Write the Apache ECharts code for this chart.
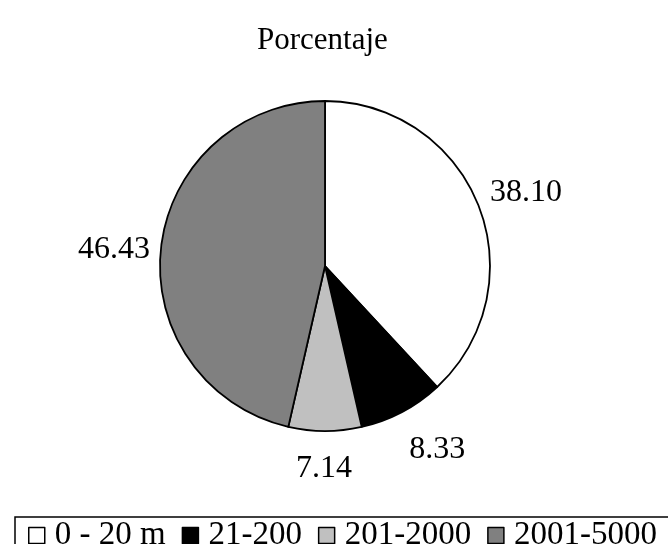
<!DOCTYPE html>
<html lang="es">
<head>
<meta charset="utf-8">
<script src="https://cdn.jsdelivr.net/npm/echarts@6/dist/echarts.min.js"></script>
<style>
  html, body { margin: 0; padding: 0; background: #fff; }
  #chart { width: 668px; height: 544px; }
</style>
</head>
<body>
<div id="chart"></div>
<script>
// datos
var categorias = ['0 - 20 m', '21-200', '201-2000', '2001-5000'];
var porcentajes = [38.10, 8.33, 7.14, 46.43];
var colores = ['#ffffff', '#000000', '#c0c0c0', '#808080'];

var fuente = 'Liberation Serif';
// ajuste fino de las etiquetas (dx, dy) respecto a la posicion exterior
var ajusteEtiquetas = [[-3, -9], [-16, 29], [-34, 14], [4, 3]];

var chart = echarts.init(document.getElementById('chart'));

var datos = [];
for (var i = 0; i < categorias.length; i++) {
    datos.push({ name: categorias[i], value: porcentajes[i], itemStyle: { color: colores[i] } });
}

chart.setOption({
    animation: false,
    title: {
        text: 'Porcentaje',
        left: 257,
        top: 25,
        padding: 0,
        textStyle: { fontFamily: fuente, fontSize: 31, fontWeight: 'normal', color: '#000' }
    },
    legend: {
        orient: 'horizontal',
        left: 15,
        top: 517,
        width: 760,
        itemWidth: 16,
        itemHeight: 16,
        itemGap: 16,
        padding: [2, 40, 20, 13],
        borderColor: '#000',
        borderWidth: 1.5,
        icon: 'rect',
        itemStyle: { borderColor: '#000', borderWidth: 1.5 },
        textStyle: { fontFamily: fuente, fontSize: 33, lineHeight: 24, color: '#000', padding: [0, 0, 0, 5] },
        data: categorias
    },
    series: [{
        type: 'pie',
        center: [325, 266],
        radius: 165,
        startAngle: 90,
        clockwise: true,
        label: {
            show: true,
            position: 'outside',
            fontFamily: fuente,
            fontSize: 32,
            color: '#000',
            formatter: function (p) { return p.value.toFixed(2); }
        },
        labelLine: { show: false, length: 10, length2: 0 },
        labelLayout: function (p) {
            var a = ajusteEtiquetas[p.dataIndex];
            return { dx: a[0], dy: a[1] };
        },
        itemStyle: { borderColor: '#000', borderWidth: 1.8 },
        emphasis: { disabled: true },
        data: datos
    }]
});
</script>
</body>
</html>
